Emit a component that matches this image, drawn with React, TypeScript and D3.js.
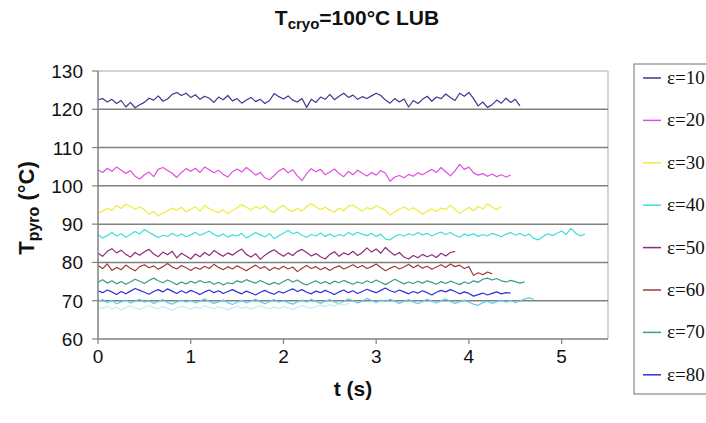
import React from "react";
import * as d3 from "d3";

const DT = 0.05;
const xTicks = [0, 1, 2, 3, 4, 5];
const yTicks = [60, 70, 80, 90, 100, 110, 120, 130];
const legendLabels = ["ε=10", "ε=20", "ε=30", "ε=40", "ε=50", "ε=60", "ε=70", "ε=80"];

const eps10 = [
  122.5,122.8,121.9,122.6,121.5,122.3,120.6,121.8,120.4,121.2,
  121.8,122.9,122.4,123.5,122.1,122.7,123.9,124.4,123.6,124.2,
  123.1,123.8,122.6,123.4,122.9,121.8,123.2,122.5,123.6,122.2,
  122.8,121.6,122.4,123.1,122.0,122.6,121.5,122.3,124.1,123.3,
  122.7,123.5,122.4,121.9,122.8,120.5,122.6,121.8,123.2,122.6,
  123.9,122.5,123.4,124.2,123.1,123.7,122.6,123.3,122.8,123.5,
  124.2,123.6,122.4,121.6,122.8,121.9,122.7,120.6,122.3,121.5,
  122.6,123.4,122.1,123.2,122.8,124.0,123.1,122.3,124.2,123.4,
  124.4,122.8,120.9,121.9,120.5,121.2,122.4,121.6,122.9,121.8,
  122.6,120.9,
];
const eps20 = [
  104.2,103.5,104.6,103.8,104.9,104.1,103.2,104.0,102.5,101.8,
  102.9,103.6,102.4,104.3,104.8,104.0,103.3,102.2,103.5,104.5,
  103.8,104.6,103.5,104.9,104.2,103.4,104.1,103.0,102.3,103.7,
  104.4,103.6,104.8,103.9,102.8,103.5,102.1,101.6,102.7,103.9,
  104.6,103.4,104.2,102.6,101.4,103.2,104.5,103.7,104.3,102.9,
  103.6,104.4,103.2,102.4,103.8,102.9,104.1,103.3,102.6,103.5,
  102.8,104.0,103.3,101.2,102.3,102.7,102.1,103.0,102.5,103.4,
  102.9,103.6,104.3,103.5,104.8,103.7,102.6,103.9,105.6,104.3,
  104.9,103.4,102.8,103.2,102.5,103.1,102.4,102.9,102.3,102.8,
];
const eps30 = [
  92.8,93.4,94.2,93.6,94.8,94.1,95.2,94.6,93.9,94.5,
  93.8,92.6,93.3,92.1,92.9,93.5,94.2,93.6,94.4,93.2,
  93.9,94.5,93.4,94.8,94.1,93.5,93.0,93.8,92.7,93.5,
  94.3,95.1,94.4,93.7,94.6,94.0,94.8,93.6,93.1,94.2,
  94.9,93.8,93.3,94.1,93.4,94.6,95.3,94.5,93.8,94.4,
  93.6,93.1,94.2,93.5,94.7,95.0,94.1,93.4,94.3,93.9,
  94.8,94.2,93.6,92.4,93.2,93.9,94.5,93.7,94.3,93.5,
  92.6,93.4,94.0,93.3,94.2,93.8,94.9,93.9,92.8,93.6,
  94.4,93.5,94.6,94.0,95.3,94.4,93.8,94.6,
];
const eps40 = [
  87.2,86.4,87.0,87.8,86.9,87.5,86.6,87.3,88.1,87.4,
  88.6,87.9,87.2,86.5,87.1,86.8,87.6,86.9,87.4,86.7,
  87.2,87.9,87.1,87.6,88.2,87.3,86.8,87.5,86.6,87.2,
  86.9,87.6,86.4,87.1,87.8,87.2,86.7,87.5,86.2,87.0,
  87.6,88.4,87.5,87.9,87.1,86.6,87.3,86.9,87.7,86.8,
  87.4,86.7,87.3,86.9,87.8,87.2,87.9,87.4,87.0,87.6,
  86.8,87.4,86.1,85.9,86.8,87.3,86.9,87.5,87.1,87.8,
  87.2,87.6,86.9,87.5,87.9,87.3,87.8,87.1,86.6,87.4,
  87.0,87.5,86.8,87.3,86.9,87.6,87.2,86.7,87.4,87.8,
  87.1,87.6,86.9,87.4,86.3,85.9,86.8,87.5,87.0,87.6,
  88.2,87.3,88.9,87.7,86.9,87.4,
];
const eps50 = [
  82.4,81.6,82.9,83.6,82.5,83.2,82.1,81.4,82.6,81.9,
  82.8,83.4,82.2,81.5,82.7,82.0,82.9,81.2,82.4,81.7,
  80.9,82.2,81.5,82.6,81.8,83.1,82.3,81.6,82.5,81.9,
  82.8,83.5,82.1,81.4,82.3,80.8,81.9,82.7,83.3,82.4,
  81.6,82.5,81.8,82.9,83.4,82.6,81.7,82.3,81.5,80.9,
  82.1,82.8,81.6,82.5,82.0,82.9,81.8,82.6,83.8,82.7,
  83.5,82.4,83.9,82.8,81.9,82.6,81.4,80.9,81.8,81.2,
  82.1,81.5,82.0,81.3,82.4,81.7,82.6,82.9,
];
const eps60 = [
  79.2,78.4,79.6,77.9,78.7,78.1,79.3,78.5,77.8,78.9,
  79.4,78.6,79.1,78.2,78.9,79.7,78.8,78.3,79.2,78.6,
  77.9,78.7,78.2,79.0,78.4,79.5,78.7,78.1,78.9,78.3,
  79.1,78.5,77.8,78.6,79.3,78.4,78.9,77.9,78.7,78.2,
  79.0,78.3,78.8,77.6,78.5,79.2,78.4,78.9,78.1,78.7,
  77.9,78.6,79.1,78.3,78.8,79.4,78.6,79.2,78.4,78.9,
  79.6,78.7,77.8,78.5,79.0,78.3,78.8,79.5,78.6,79.3,
  78.5,79.0,78.2,78.8,79.4,78.7,79.6,78.9,79.3,78.4,
  78.9,76.6,77.3,76.8,77.5,77.0,
];
const eps70 = [
  74.8,75.5,74.6,75.2,74.4,75.0,74.3,74.9,75.6,75.1,
  74.5,75.3,75.9,75.2,74.7,75.4,74.8,74.2,74.9,74.4,
  75.1,74.6,75.3,74.7,75.0,74.3,74.8,74.1,74.7,74.4,
  75.2,74.8,75.5,75.0,74.6,75.3,74.7,74.2,74.8,74.3,
  75.0,75.6,74.9,75.4,74.6,74.1,74.7,75.2,74.5,75.0,
  74.4,75.1,74.7,75.3,74.8,74.3,74.9,74.5,75.2,74.7,
  75.4,74.8,74.2,74.9,75.6,75.0,74.4,74.9,74.5,75.1,
  74.6,75.2,74.8,74.3,75.0,74.5,75.1,74.7,74.2,74.9,
  74.5,75.2,74.8,75.6,75.9,75.4,75.8,75.2,74.9,75.3,
  75.0,74.6,74.9,
];
const eps80 = [
  72.6,72.1,72.8,72.3,71.6,72.4,71.8,72.5,73.2,72.7,
  72.2,71.7,72.4,72.9,72.3,73.1,72.5,71.9,72.6,72.0,
  72.7,72.2,71.6,72.3,72.8,72.1,72.6,71.9,72.4,72.9,
  72.3,71.8,72.5,72.0,71.5,72.2,72.7,72.1,71.7,72.4,
  72.0,72.6,73.1,72.4,72.9,72.2,71.8,72.5,72.1,72.7,
  72.2,71.6,72.3,72.8,72.1,72.6,71.9,72.4,73.0,72.5,
  72.1,72.7,73.3,72.6,72.2,72.8,72.3,71.8,72.4,72.0,
  72.6,72.1,71.5,72.2,72.7,72.3,72.9,72.4,71.8,72.3,
  71.9,71.2,71.6,72.0,71.5,71.9,72.3,71.8,72.1,72.0,
];
const eps90 = [
  69.8,70.3,69.5,70.1,69.2,69.7,70.2,69.4,69.9,70.4,
  69.6,70.0,69.3,69.8,70.3,69.5,69.1,69.7,70.2,69.6,
  70.1,69.4,69.9,70.5,69.8,69.3,69.7,70.2,69.5,69.0,
  69.6,70.1,69.4,69.9,70.4,69.7,69.2,69.8,70.3,69.6,
  70.0,69.5,69.1,69.7,70.2,69.6,70.4,69.8,69.3,69.9,
  70.3,69.7,69.2,69.8,70.5,70.0,69.4,69.9,70.6,70.1,
  69.5,70.2,69.8,70.4,69.9,69.3,69.8,70.3,69.7,69.2,
  69.8,70.4,69.9,69.4,70.0,70.5,69.8,69.3,69.7,70.2,
  69.6,69.1,68.8,69.5,69.9,69.3,69.7,70.2,69.6,70.1,
  69.5,70.0,70.4,70.8,70.3,
];
const palePyro = [
  68.4,68.0,68.6,67.8,68.3,67.6,68.2,68.7,68.1,67.7,
  68.3,68.8,68.2,67.9,68.5,68.0,67.5,68.1,68.6,68.2,
  67.8,68.4,68.0,68.7,68.3,67.9,68.5,68.1,67.6,68.2,
  68.6,68.0,68.4,67.8,68.3,68.7,68.2,67.9,68.4,68.0,
  68.5,68.1,67.7,68.3,68.8,68.4,68.0,68.5,68.9,68.4,
  69.0,68.6,69.2,68.8,69.3,
];

const seriesValues = [eps10, eps20, eps30, eps40, eps50, eps60, eps70, eps80, eps90, palePyro];
const seriesColors = ["#3a3a8e", "#e24ee2", "#ecec3c", "#3fdede", "#8c2c7c", "#a03c3c", "#3c9a8a", "#3030dc", "#5ccfe6", "#c4eef6"];

const W = 706, H = 423;
const M = { left: 98, right: 608, top: 71, bottom: 339 };

export default function App() {
  const x = d3.scaleLinear().domain([0, 5.5]).range([M.left, M.right]);
  const y = d3.scaleLinear().domain([60, 130]).range([M.bottom, M.top]);
  const line = d3.line<number>().x((_, i) => x(i * DT)).y((d) => y(d));
  const font = "Liberation Sans, Arial, sans-serif";
  const legTop = 78, legStep = 42.4;

  return (
    <svg width={W} height={H} style={{ position: "absolute", left: 0, top: 0, background: "#fff" }} fontFamily={font}>
      {/* title */}
      <text x={357} y={25} textAnchor="middle" fontWeight="bold" fontSize={21} fill="#111">
        T<tspan fontSize={15} dy={4}>cryo</tspan><tspan dy={-4}>=100°C LUB</tspan>
      </text>
      {/* plot frame */}
      <line x1={M.left} x2={M.right} y1={M.top} y2={M.top} stroke="#c4c4c4" strokeWidth={1.5} />
      <line x1={M.right} x2={M.right} y1={M.top} y2={M.bottom} stroke="#c4c4c4" strokeWidth={1.5} />
      {yTicks.filter((v) => v > 60 && v < 130).map((v) => (
        <line key={v} x1={M.left} x2={M.right} y1={y(v)} y2={y(v)} stroke="#808080" strokeWidth={1.5} />
      ))}
      {/* series */}
      {seriesValues.map((vals, k) => (
        <path key={k} d={line(vals) || ""} fill="none" stroke={seriesColors[k]} strokeWidth={1.2} strokeLinejoin="round" />
      ))}
      {/* axes */}
      <line x1={M.left} x2={M.left} y1={M.top} y2={M.bottom} stroke="#808080" strokeWidth={1.5} />
      <line x1={M.left} x2={M.right} y1={M.bottom} y2={M.bottom} stroke="#808080" strokeWidth={1.5} />
      {yTicks.map((v) => (
        <g key={v}>
          <line x1={M.left - 6} x2={M.left} y1={y(v)} y2={y(v)} stroke="#808080" strokeWidth={1.2} />
          <text x={83} y={y(v) + 7} textAnchor="end" fontSize={19} fill="#111">{v}</text>
        </g>
      ))}
      {xTicks.map((v) => (
        <g key={v}>
          <line x1={x(v)} x2={x(v)} y1={M.bottom} y2={M.bottom + 5} stroke="#808080" strokeWidth={1.2} />
          <text x={x(v)} y={363} textAnchor="middle" fontSize={19} fill="#111">{v}</text>
        </g>
      ))}
      {/* axis labels */}
      <text x={353} y={396} textAnchor="middle" fontWeight="bold" fontSize={21} fill="#111">t (s)</text>
      <text transform="translate(34,208) rotate(-90)" textAnchor="middle" fontWeight="bold" fontSize={22} fill="#111">
        T<tspan fontSize={16} dy={5}>pyro</tspan><tspan dy={-5}> (°C)</tspan>
      </text>
      {/* legend */}
      <rect x={634} y={64} width={100} height={330} fill="#fff" stroke="#888" strokeWidth={1.2} />
      {legendLabels.map((lab, k) => (
        <g key={lab}>
          <line x1={643} x2={661} y1={legTop + k * legStep} y2={legTop + k * legStep} stroke={seriesColors[k]} strokeWidth={1.5} />
          <text x={667} y={legTop + k * legStep + 6} fontSize={19} fontFamily="Liberation Serif, Times New Roman, serif" fill="#111">{lab}</text>
        </g>
      ))}
    </svg>
  );
}
